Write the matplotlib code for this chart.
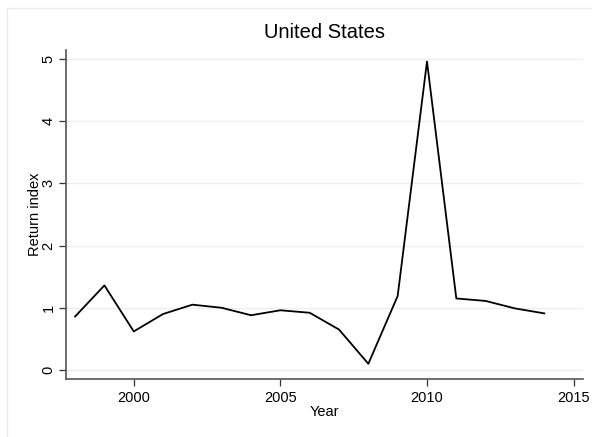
import matplotlib
matplotlib.use("Agg")
import matplotlib.pyplot as plt
from matplotlib.patches import Rectangle

plt.rcParams["font.family"] = ["Liberation Sans", "DejaVu Sans"]

years = [1998, 1999, 2000, 2001, 2002, 2003, 2004, 2005, 2006,
         2007, 2008, 2009, 2010, 2011, 2012, 2013, 2014]
return_index = [0.86, 1.36, 0.62, 0.90, 1.05, 1.00, 0.88, 0.96, 0.92,
                0.65, 0.10, 1.19, 4.96, 1.15, 1.11, 0.99, 0.91]
xticks = [2000, 2005, 2010, 2015]
yticks = [0, 1, 2, 3, 4, 5]

W, H = 592, 437
fig = plt.figure(figsize=(W / 100, H / 100), dpi=100)
fig.patch.set_facecolor("white")

# outer light frame (Stata graph region)
fig.patches.append(Rectangle((7 / W, -0.1), 1.2, (H - 8) / H + 0.1,
                             transform=fig.transFigure, fill=False,
                             edgecolor="#e6eef0", linewidth=1.0))

left, right, top, bottom = 66, 583, 50, 379
ax = fig.add_axes([left / W, 1 - bottom / H, (right - left) / W, (bottom - top) / H])

ax.plot(years, return_index, color="black", linewidth=1.3, zorder=3)

ax.set_xlim(1997.69, 2015.32)
ax.set_ylim(-0.145, 5.145)
ax.set_xticks(xticks)
ax.set_yticks(yticks)
ax.set_xticklabels([str(t) for t in xticks], fontsize=10.5)
ax.set_yticklabels([str(t) for t in yticks], fontsize=10.5, rotation=90, va="center")
ax.tick_params(direction="out", length=5, width=0.9, color="#333333", pad=4)
ax.tick_params(axis="y", pad=2.5)

ax.grid(axis="y", color="#e8f0f2", linewidth=1.0)
ax.set_axisbelow(True)
for s in ["top", "right"]:
    ax.spines[s].set_visible(False)
for s in ["left", "bottom"]:
    ax.spines[s].set_color("#555555")
    ax.spines[s].set_linewidth(1.2)

ax.set_title("United States", fontsize=14.5, pad=9)
ax.set_xlabel("Year", fontsize=10.5, labelpad=0)
ax.set_ylabel("Return index", fontsize=10.5, labelpad=0)

fig.savefig("out.png", dpi=100, facecolor="white")
